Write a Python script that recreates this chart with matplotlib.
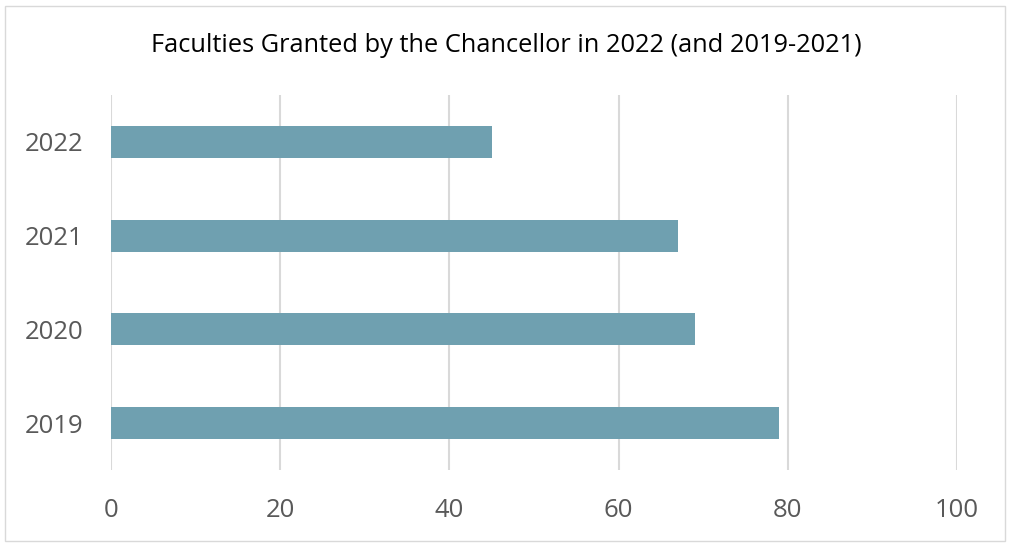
import matplotlib
matplotlib.use("Agg")
import matplotlib.pyplot as plt
from matplotlib.patches import Rectangle

years = ["2019", "2020", "2021", "2022"]
faculties = [79, 69, 67, 45]
xticks = [0, 20, 40, 60, 80, 100]
title = "Faculties Granted by the Chancellor in 2022 (and 2019-2021)"

plt.rcParams['font.family'] = ['Open Sans', 'DejaVu Sans']

fig = plt.figure(figsize=(10.11, 5.46), dpi=100)
ax = fig.add_axes([111/1011, 76/546, (957-111)/1011, (470-95)/546])

pos = list(range(len(years)))
ax.barh(pos, faculties, height=0.34, color="#6FA0B0", zorder=3)
ax.set_ylim(-0.5, len(years) - 0.5)
ax.set_xlim(0, 100)
ax.set_xticks(xticks)
ax.set_yticks(pos)
ax.set_yticklabels(years)
ax.tick_params(axis='both', length=0, labelsize=18.5, colors="#595959")
ax.tick_params(axis='x', pad=20)
ax.tick_params(axis='y', pad=20)
ax.xaxis.grid(True, color="#D9D9D9", linewidth=1.5, zorder=0)
for s in ax.spines.values():
    s.set_visible(False)

fig.text(506/1011, 1 - 45/546, title, ha='center', va='center', fontsize=18.3, color="#000000")

fig.patches.append(Rectangle((5/1011, 5/546), 1000/1011, 535/546, transform=fig.transFigure,
                             fill=False, edgecolor="#D9D9D9", linewidth=1))

fig.savefig("out.png", dpi=100)
